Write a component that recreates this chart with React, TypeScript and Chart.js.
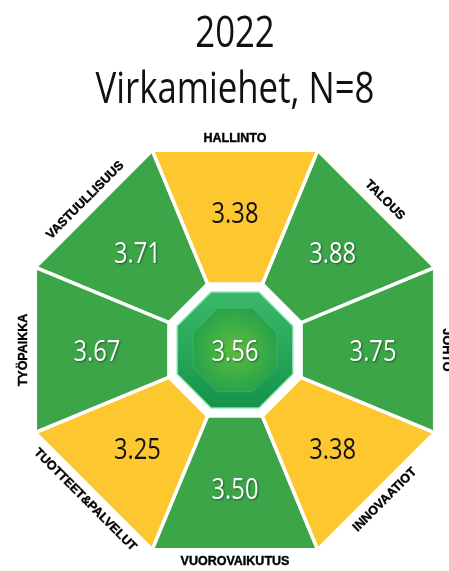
import React, { useEffect, useRef } from 'react';
import { Chart, registerables } from 'chart.js';

Chart.register(...registerables);

// ---- data ----
const TITLE_LINES = ['2022', 'Virkamiehet, N=8'];
const CATEGORIES = [
  'HALLINTO',
  'TALOUS',
  'JOHTO',
  'INNOVAATIOT',
  'VUOROVAIKUTUS',
  'TUOTTEET&PALVELUT',
  'TYÖPAIKKA',
  'VASTUULLISUUS',
];
const SCORES = [3.38, 3.88, 3.75, 3.38, 3.5, 3.25, 3.67, 3.71];
const TOTAL_SCORE = 3.56;
const THRESHOLD = 3.5;

// ---- styling / geometry levels (radial scale units, max = 1) ----
const OUTER_LEVEL = 1.01;
const WHITE_LEVEL = 0.343;
const GREEN_LEVEL = 0.293;
const FACET_LEVEL = 0.212;
const LABEL_LEVEL = 0.99;
const VALUE_LEVEL = 0.645;

const GREEN = '#3ba548';
const YELLOW = '#fdc72f';
const HUMAN = '"Open Sans", "Noto Sans", "DejaVu Sans", sans-serif';
const CONDENSE = 0.79;

const n = CATEGORIES.length;

function ringData(level: number) {
  return CATEGORIES.map(() => level);
}

function segmentData(k: number) {
  return CATEGORIES.map((_, i) => (i === k || i === (k + 1) % n ? OUTER_LEVEL : 0));
}

function condensedText(
  ctx: CanvasRenderingContext2D,
  text: string,
  x: number,
  y: number,
  size: number,
  color: string,
  shadow: boolean,
  weight: string
) {
  ctx.save();
  ctx.translate(x, y);
  ctx.scale(CONDENSE, 1);
  ctx.font = `${weight} ${size}px ${HUMAN}`;
  ctx.textAlign = 'center';
  ctx.textBaseline = 'alphabetic';
  if (shadow) {
    ctx.shadowColor = 'rgba(0,0,0,0.45)';
    ctx.shadowOffsetX = 1;
    ctx.shadowOffsetY = 1;
    ctx.shadowBlur = 2;
  }
  ctx.fillStyle = color;
  ctx.fillText(text, 0, 0);
  ctx.restore();
}

const labelPlugin = {
  id: 'octLabels',
  afterDatasetsDraw(chart: any) {
    const scale = chart.scales.r;
    const ctx = chart.ctx as CanvasRenderingContext2D;
    const top = chart.chartArea.top;
    ctx.save();

    // title (two lines, condensed humanist face)
    condensedText(ctx, TITLE_LINES[0], scale.xCenter, top - 89, 44, '#111', false, '500');
    condensedText(ctx, TITLE_LINES[1], scale.xCenter, top - 33, 44, '#111', false, '500');

    CATEGORIES.forEach((name, k) => {
      const mid = k + 0.5;
      // category label along the outer edge
      const lp = scale.getPointPositionForValue(mid, LABEL_LEVEL);
      let deg = (scale.getIndexAngle(mid) * 180) / Math.PI;
      deg = ((deg % 360) + 360) % 360;
      let rot = deg;
      if (deg > 90.5 && deg < 269.5) rot = deg - 180;
      else if (deg >= 269.5) rot = deg - 360;
      ctx.save();
      ctx.translate(lp.x, lp.y);
      ctx.rotate((rot * Math.PI) / 180);
      ctx.font = 'bold 12.5px "Liberation Sans", Arial, sans-serif';
      ctx.fillStyle = '#000';
      ctx.strokeStyle = '#000';
      ctx.lineWidth = 0.4;
      ctx.textAlign = 'center';
      ctx.textBaseline = 'middle';
      ctx.fillText(name, 0, 0);
      ctx.strokeText(name, 0, 0);
      ctx.restore();

      // value in the segment
      const vp = scale.getPointPositionForValue(mid, VALUE_LEVEL);
      const good = SCORES[k] >= THRESHOLD;
      condensedText(ctx, SCORES[k].toFixed(2), vp.x, vp.y + 11, 30, good ? '#fff' : '#111', good, '500');
    });
    // centre value
    condensedText(ctx, TOTAL_SCORE.toFixed(2), scale.xCenter, scale.yCenter + 11, 30, '#fff', true, '500');
    ctx.restore();
  },
};

function greenFill(c: any) {
  const chart = c.chart;
  const s = chart.scales && chart.scales.r;
  if (!s || !chart.chartArea) return '#22a04c';
  const r = s.getDistanceFromCenterForValue(GREEN_LEVEL);
  const g = chart.ctx.createLinearGradient(0, s.yCenter - r, 0, s.yCenter + r);
  g.addColorStop(0, '#3dbb6c');
  g.addColorStop(1, '#139148');
  return g;
}

function facetFill(c: any) {
  const chart = c.chart;
  const s = chart.scales && chart.scales.r;
  if (!s || !chart.chartArea) return '#2aa54a';
  const r = s.getDistanceFromCenterForValue(FACET_LEVEL);
  const g = chart.ctx.createRadialGradient(s.xCenter, s.yCenter, 0, s.xCenter, s.yCenter, r * 1.05);
  g.addColorStop(0, '#5dbd3f');
  g.addColorStop(1, '#22a04b');
  return g;
}

export default function App() {
  const ref = useRef<HTMLCanvasElement | null>(null);

  useEffect(() => {
    if (!ref.current) return;
    const segDatasets = CATEGORIES.map((name, k) => ({
      label: name,
      data: segmentData(k),
      backgroundColor: SCORES[k] >= THRESHOLD ? GREEN : YELLOW,
      borderColor: '#ffffff',
      borderWidth: 3.5,
      borderJoinStyle: 'miter' as const,
      fill: 'origin',
      clip: false as any,
    }));
    const chart = new Chart(ref.current, {
      type: 'radar',
      data: {
        labels: CATEGORIES.map((_, i) => String(i)),
        datasets: [
          {
            label: 'facet',
            data: ringData(FACET_LEVEL),
            backgroundColor: facetFill as any,
            borderColor: 'rgba(255,255,255,0.12)',
            borderWidth: 1,
            fill: 'origin',
            clip: false as any,
          },
          {
            label: 'green',
            data: ringData(GREEN_LEVEL),
            backgroundColor: greenFill as any,
            borderColor: 'rgba(150,235,190,0.9)',
            borderWidth: 1.5,
            fill: 'origin',
            clip: false as any,
          },
          {
            label: 'white',
            data: ringData(WHITE_LEVEL),
            backgroundColor: '#ffffff',
            borderColor: '#ffffff',
            borderWidth: 0,
            fill: 'origin',
            clip: false as any,
          },
          ...segDatasets,
        ] as any,
      },
      options: {
        animation: false,
        responsive: false,
        events: [],
        layout: { padding: { left: 21, right: 0, top: 136, bottom: 7 } },
        elements: {
          point: { radius: 0, hitRadius: 0, hoverRadius: 0 },
          line: { tension: 0 },
        },
        scales: {
          r: {
            min: 0,
            max: 1,
            startAngle: -22.5,
            grid: { display: false },
            angleLines: { display: false },
            ticks: { display: false },
            pointLabels: { display: false },
          },
        },
        plugins: {
          legend: { display: false },
          tooltip: { enabled: false },
          title: { display: false },
        },
      },
      plugins: [labelPlugin],
    });
    return () => chart.destroy();
  }, []);

  return (
    <div style={{ position: 'absolute', left: 0, top: 0, width: 449, height: 571 }}>
      <canvas ref={ref} width={449} height={571} style={{ display: 'block' }} />
    </div>
  );
}
